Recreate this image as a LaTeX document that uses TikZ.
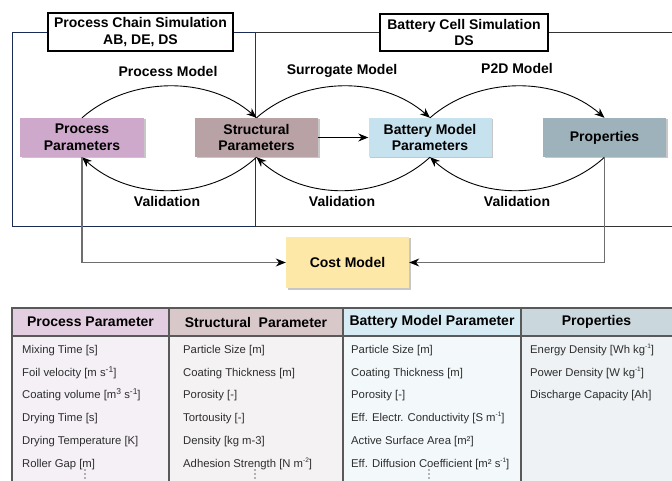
\documentclass[tikz,border=0pt]{standalone}
\usepackage{fontspec}
\setmainfont{Liberation Sans}
\usetikzlibrary{arrows.meta,calc,shadows}
\definecolor{ppc}{HTML}{CFA9CC}
\definecolor{spc}{HTML}{B9A2A6}
\definecolor{bmc}{HTML}{C6E2EE}
\definecolor{prc}{HTML}{9DB2BB}
\definecolor{cmc}{HTML}{FDE8A8}
\definecolor{navy}{HTML}{1C2A56}
\definecolor{hpp}{HTML}{E3CDE1}
\definecolor{hsp}{HTML}{D9C8CA}
\definecolor{hbm}{HTML}{D6EBF3}
\definecolor{hpr}{HTML}{CAD7DC}
\definecolor{bpp}{HTML}{F4F0F6}
\definecolor{bsp}{HTML}{F5F2F4}
\definecolor{bbm}{HTML}{F3F8FB}
\definecolor{bpr}{HTML}{EEF2F4}
\definecolor{tgray}{HTML}{2E2E2E}
\definecolor{lgray}{HTML}{6E6E6E}
\newcommand{\bigsup}[1]{\raisebox{0.65ex}{\fontsize{8.5}{9}\selectfont #1}}
\newcommand{\smsup}[1]{\raisebox{0.7ex}{\fontsize{6.5}{7}\selectfont #1}}
\begin{document}
\begin{tikzpicture}[x=1pt,y=-1pt,
  bf/.style={font=\fontsize{14}{16.8}\selectfont\bfseries},
  box/.style={bf, align=center, minimum width=123pt, minimum height=39pt, inner sep=0pt,
    drop shadow={shadow xshift=1.5pt, shadow yshift=-1.5pt, fill=black!22, opacity=1}},
  titlebox/.style={bf, align=center, draw=black, line width=1.3pt, fill=white, inner sep=0pt},
  arr/.style={line width=0.9pt, -{Stealth[length=10pt,width=8pt]}},
  costarr/.style={lgray, line width=1.2pt, -{Stealth[length=10pt,width=8pt,black]}},
  lbl/.style={bf, inner sep=0pt},
  hdr/.style={bf, inner sep=0pt},
  cell/.style={anchor=base west, inner sep=0pt, text=tgray, font=\fontsize{11.3}{13}\selectfont},
  dot/.style={fill=lgray, draw=none},
  tline/.style={draw=black!65, line width=1.3pt}
]
\useasboundingbox (0,0) rectangle (672,481);

% frames
\draw[navy, line width=1pt] (12,33) rectangle (255,227);
\draw[black!80, line width=1pt] (255,33) -- (672,33);
\draw[black!80, line width=1pt] (255,227) -- (672,227);
\draw[black!80, line width=1pt] (255,33) -- (255,227);

\node[titlebox, minimum width=185pt, minimum height=38pt] (t1) at (140.5,32) {Process Chain Simulation\\AB, DE, DS};
\node[titlebox, minimum width=168pt, minimum height=37pt] (t2) at (464,32.5) {Battery Cell Simulation\\DS};

% nodes
\node[box, fill=ppc, minimum width=124pt] (pp) at (82,137.5) {Process\\Parameters};
\node[box, fill=spc] (sp) at (256.5,137.5) {Structural\\Parameters};
\node[box, fill=bmc] (bm) at (430,137.5) {Battery Model\\Parameters};
\node[box, fill=prc] (pr) at (604.5,137.5) {Properties};
\node[box, fill=cmc, minimum height=51pt] (cm) at (347.5,262.5) {Cost Model};

% model curves
\draw[arr] (pp.north) .. controls ($(pp.north)+(48,-42)$) and ($(sp.north)+(-48,-42)$) .. (sp.north);
\draw[arr] (sp.north) .. controls ($(sp.north)+(48,-42)$) and ($(bm.north)+(-48,-42)$) .. (bm.north);
\draw[arr] (bm.north) .. controls ($(bm.north)+(48,-42)$) and ($(pr.north)+(-48,-42)$) .. (pr.north);
% validation curves
\draw[arr] (sp.south) .. controls ($(sp.south)+(-48,44)$) and ($(pp.south)+(48,44)$) .. (pp.south);
\draw[arr] (bm.south) .. controls ($(bm.south)+(-48,44)$) and ($(sp.south)+(48,44)$) .. (sp.south);
\draw[arr] (pr.south) .. controls ($(pr.south)+(-48,44)$) and ($(bm.south)+(48,44)$) .. (bm.south);
\draw[arr] (sp.east) -- (bm.west);

\node[lbl] (l1) at (168,71) {Process Model};
\node[lbl] (l2) at (342,71) {Surrogate Model};
\node[lbl] (l3) at (517,68) {P2D Model};
\node[lbl] (v1) at (167,201) {Validation};
\node[lbl] (v2) at (342,201) {Validation};
\node[lbl] (v3) at (517,201) {Validation};

% cost connectors
\draw[costarr] (pp.south) |- (cm.west);
\draw[costarr] (pr.south) |- (cm.east);

% table
\fill[hpp] (12,308) rectangle (169,336);
\fill[hsp] (169,308) rectangle (343,336);
\fill[hbm] (343,308) rectangle (521,336);
\fill[hpr] (521,308) rectangle (672,336);
\fill[bpp] (12,336) rectangle (169,482);
\fill[bsp] (169,336) rectangle (343,482);
\fill[bbm] (343,336) rectangle (521,482);
\fill[bpr] (521,336) rectangle (672,482);
\draw[tline] (12,482) -- (12,308) -- (672,308);
\draw[tline] (12,336) -- (672,336);
\draw[tline] (169,308) -- (169,482);
\draw[tline] (343,308) -- (343,482);
\draw[tline] (521,308) -- (521,482);

\node[hdr] (h1) at (90.5,322) {Process Parameter};
\node[hdr] (h2) at (256,322) {Structural\ \ Parameter};
\node[hdr] (h3) at (432,322) {Battery Model Parameter};
\node[hdr] (h4) at (596.5,322) {Properties};

\node[cell] (a1) at (22,353) {Mixing Time [s]};
\node[cell] (a2) at (22,376) {Foil velocity [m s\bigsup{-1}]};
\node[cell] (a3) at (22,398.5) {Coating volume [m\bigsup{3} s\bigsup{-1}]};
\node[cell] (a4) at (22,421) {Drying Time [s]};
\node[cell] (a5) at (22,444) {Drying Temperature [K]};
\node[cell] (a6) at (22,467) {Roller Gap [m]};
\foreach \yy in {470,474,478} \fill[dot] (85,\yy) circle (0.8);

\node[cell] (b1) at (183,353) {Particle Size [m]};
\node[cell] (b2) at (183,376) {Coating Thickness [m]};
\node[cell] (b3) at (183,398.5) {Porosity [-]};
\node[cell] (b4) at (183,421) {Tortousity [-]};
\node[cell] (b5) at (183,444) {Density [kg m-3]};
\node[cell] (b6) at (183,467) {Adhesion Strength [N m\smsup{-2}]};
\foreach \yy in {470,474,478} \fill[dot] (255,\yy) circle (0.8);

\node[cell] (c1) at (351,353) {Particle Size [m]};
\node[cell] (c2) at (351,376) {Coating Thickness [m]};
\node[cell] (c3) at (351,398.5) {Porosity [-]};
\node[cell] (c4) at (351,421) {Eff. Electr. Conductivity [S m\smsup{-1}]};
\node[cell] (c5) at (351,444) {Active Surface Area [m²]};
\node[cell] (c6) at (351,467) {Eff. Diffusion Coefficient [m² s\smsup{-1}]};
\foreach \yy in {470,474,478} \fill[dot] (429,\yy) circle (0.8);

\node[cell] (d1) at (530,353) {Energy Density [Wh kg\smsup{-1}]};
\node[cell] (d2) at (530,376) {Power Density [W kg\smsup{-1}]};
\node[cell] (d3) at (530,398.5) {Discharge Capacity [Ah]};
\end{tikzpicture}
\end{document}
